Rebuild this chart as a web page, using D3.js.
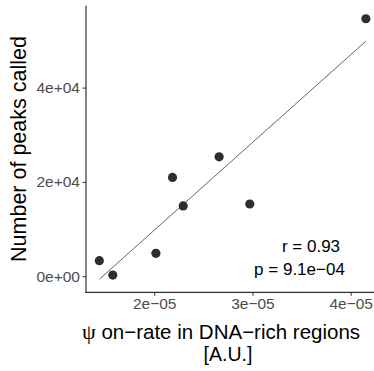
<!DOCTYPE html>
<html>
<head>
<meta charset="utf-8">
<script src="https://cdn.jsdelivr.net/npm/d3@7"></script>
<style>
  html, body { margin: 0; padding: 0; background: #fff; }
  svg { display: block; }
  text { font-family: "Liberation Sans", Arial, Helvetica, sans-serif; }
</style>
</head>
<body>
<svg id="chart" width="374" height="371"></svg>
<script>
// ---- data ----
const onRate = [1.441e-5, 1.578e-5, 2.017e-5, 2.186e-5, 2.295e-5, 2.661e-5, 2.973e-5, 4.155e-5];
const peaks  = [3300, 250, 4870, 20950, 14900, 25330, 15320, 54600];
const xTicks = [2e-5, 3e-5, 4e-5];
const yTicks = [0, 20000, 40000];
const statLabels = ["r = 0.93", "p = 9.1e\u221204"];
const yTitle = "Number of peaks called";
const xTitleLine1 = " on\u2212rate in DNA\u2212rich regions";
const xTitleLine2 = "[A.U.]";

// ---- linear fit ----
const n = onRate.length;
const mx = d3.mean(onRate), my = d3.mean(peaks);
let sxy = 0, sxx = 0;
for (let i = 0; i < n; i++) { sxy += (onRate[i]-mx)*(peaks[i]-my); sxx += (onRate[i]-mx)**2; }
const slope = sxy / sxx, intercept = my - slope * mx;
const xMin = d3.min(onRate), xMax = d3.max(onRate);
const fitPts = [[xMin, intercept + slope*xMin], [xMax, intercept + slope*xMax]];

// ---- scales (ggplot-like 5% expansion) ----
const panel = { left: 86, right: 379.2, top: 5.7, bottom: 292.3 };
const xr = xMax - xMin;
const x = d3.scaleLinear().domain([xMin - 0.05*xr, xMax + 0.05*xr]).range([panel.left, panel.right]);
const yLo = Math.min(d3.min(peaks), fitPts[0][1], fitPts[1][1]);
const yHi = Math.max(d3.max(peaks), fitPts[0][1], fitPts[1][1]);
const yr = yHi - yLo;
const y = d3.scaleLinear().domain([yLo - 0.05*yr, yHi + 0.05*yr]).range([panel.bottom, panel.top]);

const svg = d3.select("#chart");

const fmtY = d => d === 0 ? "0e+00" : d3.format(".0e")(d).replace("e+", "e+0");
const fmtX = d => { const s = d.toExponential(0); const [m, e] = s.split("e"); return m + "e\u2212" + String(Math.abs(+e)).padStart(2, "0"); };

// y axis
const yAxis = svg.append("g").attr("transform", `translate(${panel.left},0)`)
  .call(d3.axisLeft(y).tickValues(yTicks).tickFormat(fmtY).tickSizeOuter(0).tickSize(3.5).tickPadding(2.5));
yAxis.select(".domain").remove();
yAxis.selectAll(".tick line").attr("stroke", "#333").attr("stroke-width", 1);
yAxis.selectAll(".tick text").attr("fill", "#4d4d4d").style("font-size", "15.5px").attr("font-family", null);

// x axis
const xAxis = svg.append("g").attr("transform", `translate(0,${panel.bottom})`)
  .call(d3.axisBottom(x).tickValues(xTicks).tickFormat(fmtX).tickSizeOuter(0).tickSize(3.5).tickPadding(2));
xAxis.select(".domain").remove();
xAxis.selectAll(".tick line").attr("stroke", "#333").attr("stroke-width", 1);
xAxis.selectAll(".tick text").attr("fill", "#4d4d4d").style("font-size", "15.5px").attr("font-family", null);

// axis lines
svg.append("line").attr("x1", panel.left).attr("x2", panel.left).attr("y1", panel.top).attr("y2", panel.bottom + 0.6)
  .attr("stroke", "#333").attr("stroke-width", 1.2);
svg.append("line").attr("x1", panel.left - 0.6).attr("x2", panel.right).attr("y1", panel.bottom).attr("y2", panel.bottom)
  .attr("stroke", "#333").attr("stroke-width", 1.2);

// fit line
svg.append("line")
  .attr("x1", x(fitPts[0][0])).attr("y1", y(fitPts[0][1]))
  .attr("x2", x(fitPts[1][0])).attr("y2", y(fitPts[1][1]))
  .attr("stroke", "#555").attr("stroke-width", 0.9);

// points
svg.append("g").selectAll("circle").data(onRate.map((v, i) => [v, peaks[i]])).join("circle")
  .attr("cx", d => x(d[0])).attr("cy", d => y(d[1])).attr("r", 4.6)
  .attr("fill", "#2e2e2e");

// stats
svg.append("text").attr("x", 311).attr("y", 252).attr("text-anchor", "middle")
  .style("font-size", "17px").attr("fill", "#000").text(statLabels[0]);
svg.append("text").attr("x", 299.5).attr("y", 274.5).attr("text-anchor", "middle")
  .style("font-size", "17px").attr("fill", "#000").text(statLabels[1]);

// y title
svg.append("text").attr("transform", "translate(26,149) rotate(-90)").attr("text-anchor", "middle")
  .style("font-size", "21.5px").attr("fill", "#000").text(yTitle);

// x title
const xt = svg.append("text").attr("x", 221).attr("y", 339).attr("text-anchor", "middle")
  .style("font-size", "20.5px").attr("fill", "#000");
xt.append("tspan").attr("font-family", "'Liberation Serif', 'DejaVu Serif', serif").style("font-size", "22px").text("\u03c8");
xt.append("tspan").text(xTitleLine1);
svg.append("text").attr("x", 228).attr("y", 361).attr("text-anchor", "middle")
  .style("font-size", "19.5px").attr("fill", "#000").text(xTitleLine2);
</script>
</body>
</html>
